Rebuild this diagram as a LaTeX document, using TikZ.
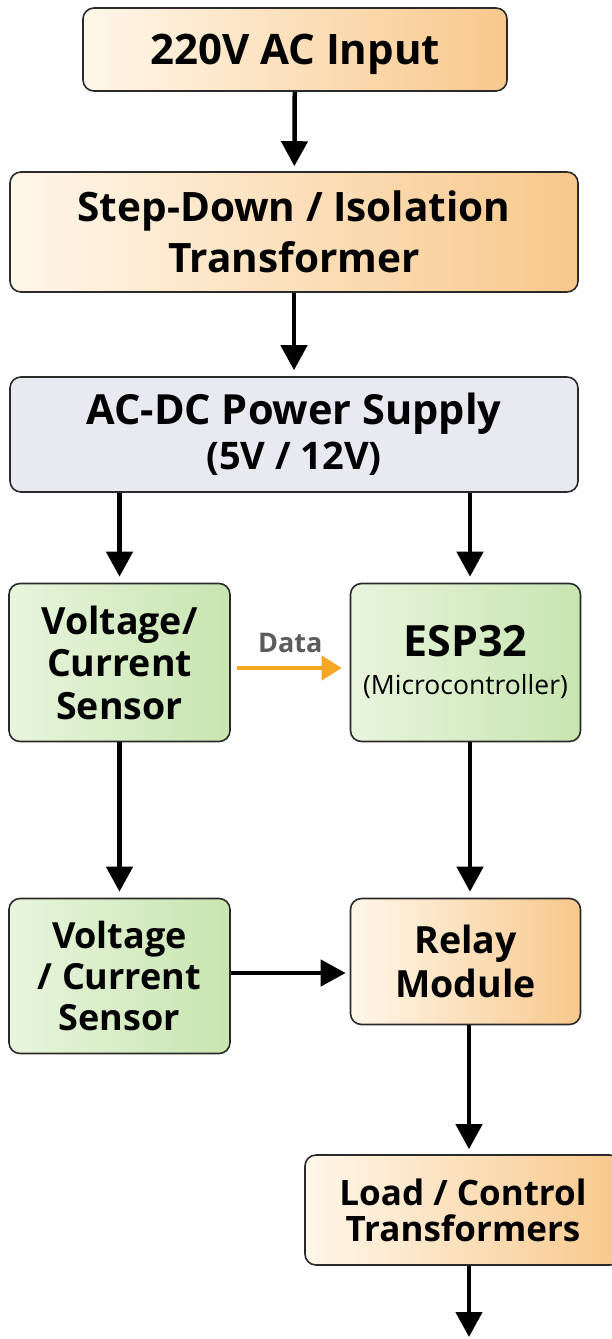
\documentclass[tikz,border=0pt]{standalone}
\usepackage{fontspec}
\setmainfont{Open Sans}
\usetikzlibrary{arrows.meta}
\definecolor{orL}{HTML}{FFF7EA}
\definecolor{orR}{HTML}{F8C88C}
\definecolor{grL}{HTML}{E8F5DD}
\definecolor{grR}{HTML}{C8E5B0}
\definecolor{psuc}{HTML}{E9E9F2}
\definecolor{dataor}{HTML}{F5A623}
\definecolor{datagray}{HTML}{5C5C5C}
\definecolor{edgec}{HTML}{2A2A2A}
\begin{document}
\begin{tikzpicture}[x=1pt,y=-1pt,
  box/.style={draw=edgec, line width=1.6pt, rounded corners=11pt, align=center, inner sep=0pt},
  orangebox/.style={box, left color=orL, right color=orR},
  greenbox/.style={box, left color=grL, right color=grR},
  graybox/.style={box, fill=psuc},
  arr/.style={line width=4.5pt, -{Triangle[length=25pt,width=26pt]}},
  dataarr/.style={draw=dataor, line width=4pt, -{Triangle[length=20pt,width=24pt]}}]
\clip (0,0) rectangle (612,1339);
\fill[white] (0,0) rectangle (612,1339);

\node[orangebox, minimum width=424pt, minimum height=83pt, text depth=0pt,
  font=\fontsize{42}{50}\selectfont\bfseries] (in) at (295,49.5) {220V AC Input};
\node[orangebox, minimum width=568pt, minimum height=120pt,
  font=\fontsize{40.5}{51}\selectfont\bfseries] (xf) at (294,232) {Step-Down / Isolation\\Transformer};
\node[graybox, minimum width=568pt, minimum height=115pt,
  font=\fontsize{38}{45}\selectfont\bfseries] (psu) at (294,434.5)
  {{\fontsize{41.5}{45}\selectfont AC-DC Power Supply}\\(5V / 12V)};
\node[greenbox, minimum width=221pt, minimum height=158pt,
  font=\fontsize{37.5}{42.5}\selectfont\bfseries] (s1) at (119.5,662.5) {Voltage/\\Current\\Sensor};
\node[greenbox, minimum width=230pt, minimum height=158pt,
  font=\fontsize{26.5}{38}\selectfont] (esp) at (465.5,662.5)
  {{\fontsize{43}{40}\selectfont\bfseries ESP32}\\(Microcontroller)};
\node[greenbox, minimum width=221pt, minimum height=155pt,
  font=\fontsize{36}{41}\selectfont\bfseries] (s2) at (119.5,976) {Voltage\\/ Current\\Sensor};
\node[orangebox, minimum width=230pt, minimum height=126pt,
  font=\fontsize{37.5}{44}\selectfont\bfseries] (relay) at (465.5,961.5) {Relay\\Module};
\node[orangebox, minimum width=316pt, minimum height=110pt,
  font=\fontsize{35}{36}\selectfont\bfseries] (load) at (463,1210) {Load / Control\\Transformers};
\coordinate (end) at (469,1339);

\draw[arr, shorten >=5pt] (in) -- (xf);
\draw[arr, shorten >=6pt] (xf) -- (psu);
\draw[arr, shorten >=6pt] (psu.south -| s1.north) -- (s1.north);
\draw[arr, shorten >=6pt] (psu.south -| 470,0) -- (esp.north -| 470,0);
\draw[arr, shorten >=6pt] (s1.south) -- (s2.north);
\draw[arr, shorten >=6pt] (esp.south -| 470,0) -- (relay.north -| 470,0);
\draw[arr, shorten >=4pt] (s2.east |- 0,973) -- (relay.west |- 0,973);
\draw[arr, shorten >=5pt] (relay.south -| 469,0) -- (load.north -| 469,0);
\draw[arr, shorten >=2pt] (load.south -| end) -- (end);
\draw[dataarr, shorten <=6pt, shorten >=8pt] (s1.east |- 0,668) -- node[above=10pt, text=datagray, font=\fontsize{27}{30}\selectfont\bfseries] (dlab) {Data} (esp.west |- 0,668);
\end{tikzpicture}
\end{document}
